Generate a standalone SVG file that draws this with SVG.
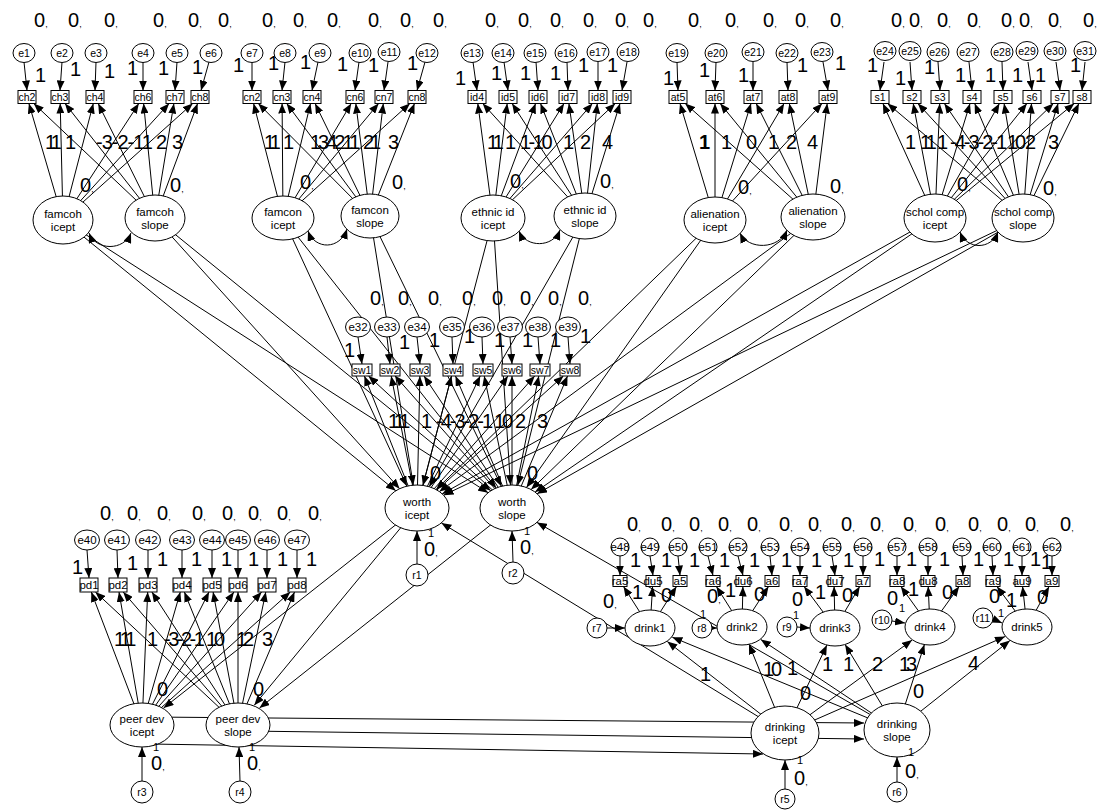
<svg xmlns="http://www.w3.org/2000/svg" width="1112" height="811" viewBox="0 0 1112 811">
<defs>
<marker id="ah" viewBox="0 0 10 8" refX="10" refY="4" markerWidth="10" markerHeight="8" markerUnits="userSpaceOnUse" orient="auto-start-reverse"><path d="M0,0L10,4L0,8z" fill="#000"/></marker>
<style>
.l{stroke:#000;stroke-width:1;fill:none;marker-end:url(#ah)}
.cv{stroke:#000;stroke-width:1;fill:none;marker-start:url(#ah);marker-end:url(#ah)}
.n{fill:#fff;stroke:#000;stroke-width:1}
.t{font-family:"Liberation Sans",Arial,sans-serif;font-size:11.5px;text-anchor:middle;fill:#000}
.s{font-size:10.5px}
.v{font-family:"Liberation Sans",Arial,sans-serif;font-size:20px;fill:#000}
.c{font-size:9px}
.m{font-family:"Liberation Sans",Arial,sans-serif;font-size:11px;fill:#000}
.b{font-weight:bold}
.k4{letter-spacing:-4px}
.k3{letter-spacing:-3px}
.k2{letter-spacing:-2px}
.k25{letter-spacing:-2.5px}
.k1{letter-spacing:-1px}
</style>
</defs>
<rect width="1112" height="811" fill="#fff"/>

<g id="connectors">
<!-- error to indicator, top row -->
<line class="l" x1="24" y1="62" x2="27" y2="90.5"/>
<line class="l" x1="62" y1="62" x2="60" y2="90.5"/>
<line class="l" x1="96" y1="62" x2="95" y2="90.5"/>
<line class="l" x1="143" y1="62" x2="143" y2="90.5"/>
<line class="l" x1="177" y1="62" x2="175" y2="90.5"/>
<line class="l" x1="209" y1="62" x2="201" y2="90.5"/>
<line class="l" x1="252" y1="62" x2="252" y2="90.5"/>
<line class="l" x1="285" y1="62" x2="282" y2="90.5"/>
<line class="l" x1="318" y1="62" x2="312" y2="90.5"/>
<line class="l" x1="359" y1="62" x2="355" y2="90.5"/>
<line class="l" x1="388" y1="62" x2="384" y2="90.5"/>
<line class="l" x1="425" y1="62" x2="417" y2="90.5"/>
<line class="l" x1="473" y1="62" x2="477" y2="90.5"/>
<line class="l" x1="504" y1="62" x2="508" y2="90.5"/>
<line class="l" x1="536" y1="62" x2="538" y2="90.5"/>
<line class="l" x1="567" y1="62" x2="568" y2="90.5"/>
<line class="l" x1="598" y1="62" x2="598" y2="90.5"/>
<line class="l" x1="627" y1="62" x2="622" y2="90.5"/>
<line class="l" x1="677" y1="62" x2="678" y2="90.5"/>
<line class="l" x1="716" y1="62" x2="715" y2="90.5"/>
<line class="l" x1="753" y1="62" x2="753" y2="90.5"/>
<line class="l" x1="787" y1="62" x2="788" y2="90.5"/>
<line class="l" x1="823" y1="62" x2="828" y2="90.5"/>
<line class="l" x1="884" y1="62" x2="880" y2="90.5"/>
<line class="l" x1="910" y1="62" x2="912" y2="90.5"/>
<line class="l" x1="938" y1="62" x2="940" y2="90.5"/>
<line class="l" x1="969" y1="62" x2="972" y2="90.5"/>
<line class="l" x1="1002" y1="62" x2="1003" y2="90.5"/>
<line class="l" x1="1028" y1="62" x2="1032" y2="90.5"/>
<line class="l" x1="1056" y1="62" x2="1060" y2="90.5"/>
<line class="l" x1="1085" y1="62" x2="1082" y2="90.5"/>
<!-- famcoh loadings -->
<line class="l" x1="63" y1="220" x2="28.9" y2="103.5"/>
<line class="l" x1="63" y1="220" x2="60.2" y2="103.5"/>
<line class="l" x1="63" y1="220" x2="93.3" y2="103.5"/>
<line class="l" x1="63" y1="220" x2="138.8" y2="103.5"/>
<line class="l" x1="63" y1="220" x2="169.1" y2="103.5"/>
<line class="l" x1="63" y1="220" x2="192.7" y2="103.5"/>
<line class="l" x1="155" y1="218" x2="33.8" y2="103.5"/>
<line class="l" x1="155" y1="218" x2="65" y2="103.5"/>
<line class="l" x1="155" y1="218" x2="98.2" y2="103.5"/>
<line class="l" x1="155" y1="218" x2="143.6" y2="103.5"/>
<line class="l" x1="155" y1="218" x2="173.9" y2="103.5"/>
<line class="l" x1="155" y1="218" x2="197.6" y2="103.5"/>
<!-- famcon loadings -->
<line class="l" x1="283" y1="218" x2="253.6" y2="103.5"/>
<line class="l" x1="283" y1="218" x2="282.1" y2="103.5"/>
<line class="l" x1="283" y1="218" x2="310.5" y2="103.5"/>
<line class="l" x1="283" y1="218" x2="351.2" y2="103.5"/>
<line class="l" x1="283" y1="218" x2="378.6" y2="103.5"/>
<line class="l" x1="283" y1="218" x2="409.9" y2="103.5"/>
<line class="l" x1="370" y1="216" x2="258.3" y2="103.5"/>
<line class="l" x1="370" y1="216" x2="286.7" y2="103.5"/>
<line class="l" x1="370" y1="216" x2="315.1" y2="103.5"/>
<line class="l" x1="370" y1="216" x2="355.8" y2="103.5"/>
<line class="l" x1="370" y1="216" x2="383.3" y2="103.5"/>
<line class="l" x1="370" y1="216" x2="414.5" y2="103.5"/>
<!-- ethnic id loadings -->
<line class="l" x1="493" y1="218" x2="477.8" y2="103.5"/>
<line class="l" x1="493" y1="218" x2="507.2" y2="103.5"/>
<line class="l" x1="493" y1="218" x2="535.6" y2="103.5"/>
<line class="l" x1="493" y1="218" x2="564" y2="103.5"/>
<line class="l" x1="493" y1="218" x2="592.4" y2="103.5"/>
<line class="l" x1="493" y1="218" x2="615.2" y2="103.5"/>
<line class="l" x1="585" y1="216" x2="482.7" y2="103.5"/>
<line class="l" x1="585" y1="216" x2="512.1" y2="103.5"/>
<line class="l" x1="585" y1="216" x2="540.5" y2="103.5"/>
<line class="l" x1="585" y1="216" x2="568.9" y2="103.5"/>
<line class="l" x1="585" y1="216" x2="597.3" y2="103.5"/>
<line class="l" x1="585" y1="216" x2="620" y2="103.5"/>
<!-- alienation loadings -->
<line class="l" x1="715" y1="220" x2="680" y2="103.5"/>
<line class="l" x1="715" y1="220" x2="715" y2="103.5"/>
<line class="l" x1="715" y1="220" x2="751" y2="103.5"/>
<line class="l" x1="715" y1="220" x2="784.1" y2="103.5"/>
<line class="l" x1="715" y1="220" x2="822" y2="103.5"/>
<line class="l" x1="813" y1="217" x2="685.2" y2="103.5"/>
<line class="l" x1="813" y1="217" x2="720.2" y2="103.5"/>
<line class="l" x1="813" y1="217" x2="756.2" y2="103.5"/>
<line class="l" x1="813" y1="217" x2="789.3" y2="103.5"/>
<line class="l" x1="813" y1="217" x2="827.2" y2="103.5"/>
<!-- schol comp loadings -->
<line class="l" x1="935" y1="218" x2="882.9" y2="103.5"/>
<line class="l" x1="935" y1="218" x2="913.2" y2="103.5"/>
<line class="l" x1="935" y1="218" x2="939.7" y2="103.5"/>
<line class="l" x1="935" y1="218" x2="970" y2="103.5"/>
<line class="l" x1="935" y1="218" x2="999.4" y2="103.5"/>
<line class="l" x1="935" y1="218" x2="1026.9" y2="103.5"/>
<line class="l" x1="935" y1="218" x2="1053.4" y2="103.5"/>
<line class="l" x1="935" y1="218" x2="1074.2" y2="103.5"/>
<line class="l" x1="1023" y1="218" x2="887.6" y2="103.5"/>
<line class="l" x1="1023" y1="218" x2="917.9" y2="103.5"/>
<line class="l" x1="1023" y1="218" x2="944.4" y2="103.5"/>
<line class="l" x1="1023" y1="218" x2="974.7" y2="103.5"/>
<line class="l" x1="1023" y1="218" x2="1004.1" y2="103.5"/>
<line class="l" x1="1023" y1="218" x2="1031.5" y2="103.5"/>
<line class="l" x1="1023" y1="218" x2="1058.1" y2="103.5"/>
<line class="l" x1="1023" y1="218" x2="1078.9" y2="103.5"/>
<!-- intercept/slope covariances -->
<path class="cv" d="M89,233 C96,251 124,251 131,233"/>
<path class="cv" d="M308,231 C315,250 340,250 347,229"/>
<path class="cv" d="M519,231 C526,248 553,248 560,230"/>
<path class="cv" d="M740,233 C748,250 779,250 787,230"/>
<path class="cv" d="M960,232 C967,250 991,250 998,232"/>
<!-- domain growth factors to self-worth growth factors -->
<line class="l" x1="63" y1="220" x2="395.8" y2="490.8"/>
<line class="l" x1="63" y1="220" x2="488.1" y2="492.7"/>
<line class="l" x1="155" y1="218" x2="399.6" y2="488.7"/>
<line class="l" x1="155" y1="218" x2="490.8" y2="490.8"/>
<line class="l" x1="283" y1="218" x2="406.9" y2="486.2"/>
<line class="l" x1="283" y1="218" x2="496.2" y2="488"/>
<line class="l" x1="370" y1="216" x2="413.3" y2="485.2"/>
<line class="l" x1="370" y1="216" x2="501.4" y2="486.3"/>
<line class="l" x1="493" y1="218" x2="422.9" y2="485.4"/>
<line class="l" x1="493" y1="218" x2="510.5" y2="485"/>
<line class="l" x1="585" y1="216" x2="429.2" y2="486.7"/>
<line class="l" x1="585" y1="216" x2="517.7" y2="485.4"/>
<line class="l" x1="715" y1="220" x2="436.1" y2="489.5"/>
<line class="l" x1="715" y1="220" x2="526.5" y2="487.5"/>
<line class="l" x1="813" y1="217" x2="439.4" y2="491.6"/>
<line class="l" x1="813" y1="217" x2="531.1" y2="489.6"/>
<line class="l" x1="935" y1="218" x2="442.2" y2="493.9"/>
<line class="l" x1="935" y1="218" x2="535.1" y2="492.1"/>
<line class="l" x1="1023" y1="218" x2="443.7" y2="495.2"/>
<line class="l" x1="1023" y1="218" x2="537.1" y2="493.8"/>
<!-- self-worth measurement -->
<line class="l" x1="358" y1="337" x2="362" y2="364"/>
<line class="l" x1="387" y1="337" x2="390" y2="364"/>
<line class="l" x1="417" y1="337" x2="420" y2="364"/>
<line class="l" x1="452" y1="337" x2="453" y2="364"/>
<line class="l" x1="482" y1="337" x2="483" y2="364"/>
<line class="l" x1="510" y1="337" x2="512" y2="364"/>
<line class="l" x1="538" y1="337" x2="540" y2="364"/>
<line class="l" x1="568" y1="337" x2="570" y2="364"/>
<line class="l" x1="417" y1="508" x2="364.4" y2="376"/>
<line class="l" x1="417" y1="508" x2="391.2" y2="376"/>
<line class="l" x1="417" y1="508" x2="419.9" y2="376"/>
<line class="l" x1="417" y1="508" x2="451.5" y2="376"/>
<line class="l" x1="417" y1="508" x2="480.2" y2="376"/>
<line class="l" x1="417" y1="508" x2="507.9" y2="376"/>
<line class="l" x1="417" y1="508" x2="534.7" y2="376"/>
<line class="l" x1="417" y1="508" x2="563.4" y2="376"/>
<line class="l" x1="512" y1="508" x2="368.5" y2="376"/>
<line class="l" x1="512" y1="508" x2="395.2" y2="376"/>
<line class="l" x1="512" y1="508" x2="424" y2="376"/>
<line class="l" x1="512" y1="508" x2="455.5" y2="376"/>
<line class="l" x1="512" y1="508" x2="484.2" y2="376"/>
<line class="l" x1="512" y1="508" x2="512" y2="376"/>
<line class="l" x1="512" y1="508" x2="538.8" y2="376"/>
<line class="l" x1="512" y1="508" x2="567.5" y2="376"/>
<!-- self-worth to peer deviance -->
<line class="l" x1="417" y1="508" x2="163.6" y2="708"/>
<line class="l" x1="417" y1="508" x2="254.3" y2="705.2"/>
<line class="l" x1="512" y1="508" x2="259.5" y2="708"/>
<!-- drinking to self-worth -->
<line class="l" x1="785" y1="733" x2="441.4" y2="522.9"/>
<line class="l" x1="897" y1="730" x2="537" y2="522.4"/>
<!-- peer deviance measurement -->
<line class="l" x1="87" y1="550" x2="89" y2="578"/>
<line class="l" x1="117" y1="550" x2="118" y2="578"/>
<line class="l" x1="148" y1="550" x2="148" y2="578"/>
<line class="l" x1="182" y1="550" x2="182" y2="578"/>
<line class="l" x1="212" y1="550" x2="212" y2="578"/>
<line class="l" x1="238" y1="550" x2="238" y2="578"/>
<line class="l" x1="267" y1="550" x2="267" y2="578"/>
<line class="l" x1="297" y1="550" x2="297" y2="578"/>
<line class="l" x1="142" y1="725" x2="91.3" y2="592"/>
<line class="l" x1="142" y1="725" x2="119" y2="592"/>
<line class="l" x1="142" y1="725" x2="147.7" y2="592"/>
<line class="l" x1="142" y1="725" x2="180.3" y2="592"/>
<line class="l" x1="142" y1="725" x2="209" y2="592"/>
<line class="l" x1="142" y1="725" x2="233.9" y2="592"/>
<line class="l" x1="142" y1="725" x2="261.6" y2="592"/>
<line class="l" x1="142" y1="725" x2="290.3" y2="592"/>
<line class="l" x1="238" y1="725" x2="95.4" y2="592"/>
<line class="l" x1="238" y1="725" x2="123.2" y2="592"/>
<line class="l" x1="238" y1="725" x2="151.9" y2="592"/>
<line class="l" x1="238" y1="725" x2="184.4" y2="592"/>
<line class="l" x1="238" y1="725" x2="213.1" y2="592"/>
<line class="l" x1="238" y1="725" x2="238" y2="592"/>
<line class="l" x1="238" y1="725" x2="265.8" y2="592"/>
<line class="l" x1="238" y1="725" x2="294.5" y2="592"/>
<!-- peer deviance to drinking -->
<line class="l" x1="150" y1="717" x2="864" y2="723"/>
<line class="l" x1="245" y1="731" x2="864" y2="739"/>
<line class="l" x1="150" y1="744" x2="763" y2="754"/>
<!-- drinking measurement -->
<line class="l" x1="620" y1="556" x2="620" y2="575.5"/>
<line class="l" x1="650" y1="556" x2="653" y2="575.5"/>
<line class="l" x1="678" y1="556" x2="680" y2="575.5"/>
<line class="l" x1="708" y1="556" x2="713" y2="575.5"/>
<line class="l" x1="738" y1="556" x2="743" y2="575.5"/>
<line class="l" x1="770" y1="556" x2="772" y2="575.5"/>
<line class="l" x1="800" y1="556" x2="800" y2="575.5"/>
<line class="l" x1="832" y1="556" x2="835" y2="575.5"/>
<line class="l" x1="863" y1="556" x2="863" y2="575.5"/>
<line class="l" x1="897" y1="556" x2="897" y2="575.5"/>
<line class="l" x1="928" y1="556" x2="928" y2="575.5"/>
<line class="l" x1="962" y1="556" x2="963" y2="575.5"/>
<line class="l" x1="992" y1="556" x2="993" y2="575.5"/>
<line class="l" x1="1022" y1="556" x2="1022" y2="575.5"/>
<line class="l" x1="1052" y1="556" x2="1052" y2="575.5"/>
<line class="l" x1="650" y1="628" x2="623.5" y2="586.5"/>
<line class="l" x1="650" y1="628" x2="652.6" y2="586.5"/>
<line class="l" x1="650" y1="628" x2="676.5" y2="586.5"/>
<line class="l" x1="742" y1="627" x2="716.4" y2="586.5"/>
<line class="l" x1="742" y1="627" x2="742.9" y2="586.5"/>
<line class="l" x1="742" y1="627" x2="768.5" y2="586.5"/>
<line class="l" x1="835" y1="628" x2="804.1" y2="586.5"/>
<line class="l" x1="835" y1="628" x2="834.1" y2="586.5"/>
<line class="l" x1="835" y1="628" x2="859.7" y2="586.5"/>
<line class="l" x1="930" y1="627" x2="900.9" y2="586.5"/>
<line class="l" x1="930" y1="627" x2="928.2" y2="586.5"/>
<line class="l" x1="930" y1="627" x2="959.1" y2="586.5"/>
<line class="l" x1="1027" y1="627" x2="997" y2="586.5"/>
<line class="l" x1="1027" y1="627" x2="1022.6" y2="586.5"/>
<line class="l" x1="1027" y1="627" x2="1049.1" y2="586.5"/>
<!-- drinking growth factors to occasions -->
<line class="l" x1="785" y1="733" x2="667.3" y2="641.5"/>
<line class="l" x1="785" y1="733" x2="749" y2="644.3"/>
<line class="l" x1="785" y1="733" x2="826.9" y2="645.1"/>
<line class="l" x1="785" y1="733" x2="912.1" y2="640.1"/>
<line class="l" x1="785" y1="733" x2="1005" y2="636.6"/>
<line class="l" x1="897" y1="730" x2="672.3" y2="637.2"/>
<line class="l" x1="897" y1="730" x2="760.8" y2="639.5"/>
<line class="l" x1="897" y1="730" x2="845.1" y2="644.6"/>
<line class="l" x1="897" y1="730" x2="924.4" y2="644.6"/>
<line class="l" x1="897" y1="730" x2="1009.9" y2="640.6"/>
<!-- residuals -->
<line class="l" x1="417" y1="564" x2="417" y2="531"/>
<line class="l" x1="513" y1="562" x2="512" y2="531"/>
<line class="l" x1="142" y1="781" x2="142" y2="747"/>
<line class="l" x1="240" y1="781" x2="239" y2="747"/>
<line class="l" x1="785" y1="789" x2="785" y2="760"/>
<line class="l" x1="897" y1="782" x2="897" y2="757"/>
<line class="l" x1="607" y1="628" x2="625" y2="628"/>
<line class="l" x1="706" y1="628" x2="717" y2="628"/>
<line class="l" x1="797" y1="627" x2="810" y2="628"/>
<line class="l" x1="892" y1="621" x2="905" y2="623"/>
<line class="l" x1="993" y1="619" x2="1002" y2="623"/>
</g>

<!-- famcoh block -->
<g id="e1"><ellipse class="n" cx="24" cy="53" rx="11" ry="9.5"/><text class="t s" x="24" y="57">e1</text></g>
<g id="e2"><ellipse class="n" cx="62" cy="53" rx="11" ry="9.5"/><text class="t s" x="62" y="57">e2</text></g>
<g id="e3"><ellipse class="n" cx="96" cy="53" rx="11" ry="9.5"/><text class="t s" x="96" y="57">e3</text></g>
<g id="e4"><ellipse class="n" cx="143" cy="53" rx="11" ry="9.5"/><text class="t s" x="143" y="57">e4</text></g>
<g id="e5"><ellipse class="n" cx="177" cy="53" rx="11" ry="9.5"/><text class="t s" x="177" y="57">e5</text></g>
<g id="e6"><ellipse class="n" cx="211" cy="53" rx="11" ry="9.5"/><text class="t s" x="211" y="57">e6</text></g>
<g id="ch2"><rect class="n" x="18" y="90.5" width="18" height="13"/><text class="t s" x="27" y="101">ch2</text></g>
<g id="ch3"><rect class="n" x="51" y="90.5" width="18" height="13"/><text class="t s" x="60" y="101">ch3</text></g>
<g id="ch4"><rect class="n" x="86" y="90.5" width="18" height="13"/><text class="t s" x="95" y="101">ch4</text></g>
<g id="ch6"><rect class="n" x="134" y="90.5" width="18" height="13"/><text class="t s" x="143" y="101">ch6</text></g>
<g id="ch7"><rect class="n" x="166" y="90.5" width="18" height="13"/><text class="t s" x="175" y="101">ch7</text></g>
<g id="ch8"><rect class="n" x="191" y="90.5" width="18" height="13"/><text class="t s" x="200" y="101">ch8</text></g>
<g id="famcoh_icept"><ellipse class="n" cx="63" cy="220" rx="30" ry="24"/><text class="t" x="63" y="218">famcoh</text><text class="t" x="63" y="231">icept</text></g>
<g id="famcoh_slope"><ellipse class="n" cx="155" cy="218" rx="30" ry="23"/><text class="t" x="155" y="216">famcoh</text><text class="t" x="155" y="229">slope</text></g>

<!-- famcon block -->
<g id="e7"><ellipse class="n" cx="252" cy="53" rx="11" ry="9.5"/><text class="t s" x="252" y="57">e7</text></g>
<g id="e8"><ellipse class="n" cx="285" cy="53" rx="11" ry="9.5"/><text class="t s" x="285" y="57">e8</text></g>
<g id="e9"><ellipse class="n" cx="320" cy="53" rx="11" ry="9.5"/><text class="t s" x="320" y="57">e9</text></g>
<g id="e10"><ellipse class="n" cx="360" cy="53" rx="11" ry="9.5"/><text class="t s" x="360" y="57">e10</text></g>
<g id="e11"><ellipse class="n" cx="389" cy="52" rx="11" ry="9.5"/><text class="t s" x="389" y="56">e11</text></g>
<g id="e12"><ellipse class="n" cx="427" cy="53" rx="11" ry="9.5"/><text class="t s" x="427" y="57">e12</text></g>
<g id="cn2"><rect class="n" x="243" y="90.5" width="18" height="13"/><text class="t s" x="252" y="101">cn2</text></g>
<g id="cn3"><rect class="n" x="273" y="90.5" width="18" height="13"/><text class="t s" x="282" y="101">cn3</text></g>
<g id="cn4"><rect class="n" x="303" y="90.5" width="18" height="13"/><text class="t s" x="312" y="101">cn4</text></g>
<g id="cn6"><rect class="n" x="346" y="90.5" width="18" height="13"/><text class="t s" x="355" y="101">cn6</text></g>
<g id="cn7"><rect class="n" x="375" y="90.5" width="18" height="13"/><text class="t s" x="384" y="101">cn7</text></g>
<g id="cn8"><rect class="n" x="408" y="90.5" width="18" height="13"/><text class="t s" x="417" y="101">cn8</text></g>
<g id="famcon_icept"><ellipse class="n" cx="283" cy="218" rx="31" ry="22"/><text class="t" x="283" y="216">famcon</text><text class="t" x="283" y="229">icept</text></g>
<g id="famcon_slope"><ellipse class="n" cx="370" cy="216" rx="29" ry="22"/><text class="t" x="370" y="214">famcon</text><text class="t" x="370" y="227">slope</text></g>

<!-- ethnic identity block -->
<g id="e13"><ellipse class="n" cx="472" cy="53" rx="11" ry="9.5"/><text class="t s" x="472" y="57">e13</text></g>
<g id="e14"><ellipse class="n" cx="503" cy="53" rx="11" ry="9.5"/><text class="t s" x="503" y="57">e14</text></g>
<g id="e15"><ellipse class="n" cx="535" cy="53" rx="11" ry="9.5"/><text class="t s" x="535" y="57">e15</text></g>
<g id="e16"><ellipse class="n" cx="566" cy="53" rx="11" ry="9.5"/><text class="t s" x="566" y="57">e16</text></g>
<g id="e17"><ellipse class="n" cx="598" cy="52" rx="11" ry="9.5"/><text class="t s" x="598" y="56">e17</text></g>
<g id="e18"><ellipse class="n" cx="628" cy="52" rx="11" ry="9.5"/><text class="t s" x="628" y="56">e18</text></g>
<g id="id4"><rect class="n" x="468" y="90.5" width="18" height="13"/><text class="t s" x="477" y="101">id4</text></g>
<g id="id5"><rect class="n" x="499" y="90.5" width="18" height="13"/><text class="t s" x="508" y="101">id5</text></g>
<g id="id6"><rect class="n" x="529" y="90.5" width="18" height="13"/><text class="t s" x="538" y="101">id6</text></g>
<g id="id7"><rect class="n" x="559" y="90.5" width="18" height="13"/><text class="t s" x="568" y="101">id7</text></g>
<g id="id8"><rect class="n" x="589" y="90.5" width="18" height="13"/><text class="t s" x="598" y="101">id8</text></g>
<g id="id9"><rect class="n" x="613" y="90.5" width="18" height="13"/><text class="t s" x="622" y="101">id9</text></g>
<g id="ethnic_icept"><ellipse class="n" cx="493" cy="218" rx="32" ry="23"/><text class="t" x="493" y="216">ethnic id</text><text class="t" x="493" y="229">icept</text></g>
<g id="ethnic_slope"><ellipse class="n" cx="585" cy="216" rx="31" ry="23"/><text class="t" x="585" y="214">ethnic id</text><text class="t" x="585" y="227">slope</text></g>

<!-- alienation block -->
<g id="e19"><ellipse class="n" cx="677" cy="53" rx="11" ry="9.5"/><text class="t s" x="677" y="57">e19</text></g>
<g id="e20"><ellipse class="n" cx="716" cy="53" rx="11" ry="9.5"/><text class="t s" x="716" y="57">e20</text></g>
<g id="e21"><ellipse class="n" cx="753" cy="52" rx="11" ry="9.5"/><text class="t s" x="753" y="56">e21</text></g>
<g id="e22"><ellipse class="n" cx="787" cy="53" rx="11" ry="9.5"/><text class="t s" x="787" y="57">e22</text></g>
<g id="e23"><ellipse class="n" cx="822" cy="52" rx="11" ry="9.5"/><text class="t s" x="822" y="56">e23</text></g>
<g id="at5"><rect class="n" x="669" y="90.5" width="18" height="13"/><text class="t s" x="678" y="101">at5</text></g>
<g id="at6"><rect class="n" x="706" y="90.5" width="18" height="13"/><text class="t s" x="715" y="101">at6</text></g>
<g id="at7"><rect class="n" x="744" y="90.5" width="18" height="13"/><text class="t s" x="753" y="101">at7</text></g>
<g id="at8"><rect class="n" x="779" y="90.5" width="18" height="13"/><text class="t s" x="788" y="101">at8</text></g>
<g id="at9"><rect class="n" x="819" y="90.5" width="18" height="13"/><text class="t s" x="828" y="101">at9</text></g>
<g id="alien_icept"><ellipse class="n" cx="715" cy="220" rx="31" ry="23"/><text class="t" x="715" y="218">alienation</text><text class="t" x="715" y="231">icept</text></g>
<g id="alien_slope"><ellipse class="n" cx="813" cy="217" rx="32" ry="23"/><text class="t" x="813" y="215">alienation</text><text class="t" x="813" y="228">slope</text></g>

<!-- school competence block -->
<g id="e24"><ellipse class="n" cx="885" cy="51" rx="11" ry="9.5"/><text class="t s" x="885" y="55">e24</text></g>
<g id="e25"><ellipse class="n" cx="910" cy="51" rx="11" ry="9.5"/><text class="t s" x="910" y="55">e25</text></g>
<g id="e26"><ellipse class="n" cx="938" cy="52" rx="11" ry="9.5"/><text class="t s" x="938" y="56">e26</text></g>
<g id="e27"><ellipse class="n" cx="968" cy="52" rx="11" ry="9.5"/><text class="t s" x="968" y="56">e27</text></g>
<g id="e28"><ellipse class="n" cx="1002" cy="52" rx="11" ry="9.5"/><text class="t s" x="1002" y="56">e28</text></g>
<g id="e29"><ellipse class="n" cx="1027" cy="51" rx="11" ry="9.5"/><text class="t s" x="1027" y="55">e29</text></g>
<g id="e30"><ellipse class="n" cx="1055" cy="51" rx="11" ry="9.5"/><text class="t s" x="1055" y="55">e30</text></g>
<g id="e31"><ellipse class="n" cx="1085" cy="51" rx="11" ry="9.5"/><text class="t s" x="1085" y="55">e31</text></g>
<g id="s1"><rect class="n" x="871" y="90.5" width="18" height="13"/><text class="t s" x="880" y="101">s1</text></g>
<g id="s2"><rect class="n" x="903" y="90.5" width="18" height="13"/><text class="t s" x="912" y="101">s2</text></g>
<g id="s3"><rect class="n" x="931" y="90.5" width="18" height="13"/><text class="t s" x="940" y="101">s3</text></g>
<g id="s4"><rect class="n" x="963" y="90.5" width="18" height="13"/><text class="t s" x="972" y="101">s4</text></g>
<g id="s5"><rect class="n" x="994" y="90.5" width="18" height="13"/><text class="t s" x="1003" y="101">s5</text></g>
<g id="s6"><rect class="n" x="1023" y="90.5" width="18" height="13"/><text class="t s" x="1032" y="101">s6</text></g>
<g id="s7"><rect class="n" x="1051" y="90.5" width="18" height="13"/><text class="t s" x="1060" y="101">s7</text></g>
<g id="s8"><rect class="n" x="1073" y="90.5" width="18" height="13"/><text class="t s" x="1082" y="101">s8</text></g>
<g id="schol_icept"><ellipse class="n" cx="935" cy="218" rx="31" ry="24"/><text class="t" x="935" y="216">schol comp</text><text class="t" x="935" y="229">icept</text></g>
<g id="schol_slope"><ellipse class="n" cx="1023" cy="218" rx="31" ry="24"/><text class="t" x="1023" y="216">schol comp</text><text class="t" x="1023" y="229">slope</text></g>

<!-- self-worth block -->
<g id="e32"><ellipse class="n" cx="358" cy="327" rx="12.5" ry="10"/><text class="t" x="358" y="331">e32</text></g>
<g id="e33"><ellipse class="n" cx="387" cy="327" rx="12.5" ry="10"/><text class="t" x="387" y="331">e33</text></g>
<g id="e34"><ellipse class="n" cx="417" cy="327" rx="12.5" ry="10"/><text class="t" x="417" y="331">e34</text></g>
<g id="e35"><ellipse class="n" cx="452" cy="327" rx="12.5" ry="10"/><text class="t" x="452" y="331">e35</text></g>
<g id="e36"><ellipse class="n" cx="482" cy="327" rx="12.5" ry="10"/><text class="t" x="482" y="331">e36</text></g>
<g id="e37"><ellipse class="n" cx="510" cy="327" rx="12.5" ry="10"/><text class="t" x="510" y="331">e37</text></g>
<g id="e38"><ellipse class="n" cx="538" cy="327" rx="12.5" ry="10"/><text class="t" x="538" y="331">e38</text></g>
<g id="e39"><ellipse class="n" cx="568" cy="327" rx="12.5" ry="10"/><text class="t" x="568" y="331">e39</text></g>
<g id="sw1"><rect class="n" x="352" y="364" width="20" height="12"/><text class="t s" x="362" y="374">sw1</text></g>
<g id="sw2"><rect class="n" x="380" y="364" width="20" height="12"/><text class="t s" x="390" y="374">sw2</text></g>
<g id="sw3"><rect class="n" x="410" y="364" width="20" height="12"/><text class="t s" x="420" y="374">sw3</text></g>
<g id="sw4"><rect class="n" x="443" y="364" width="20" height="12"/><text class="t s" x="453" y="374">sw4</text></g>
<g id="sw5"><rect class="n" x="473" y="364" width="20" height="12"/><text class="t s" x="483" y="374">sw5</text></g>
<g id="sw6"><rect class="n" x="502" y="364" width="20" height="12"/><text class="t s" x="512" y="374">sw6</text></g>
<g id="sw7"><rect class="n" x="530" y="364" width="20" height="12"/><text class="t s" x="540" y="374">sw7</text></g>
<g id="sw8"><rect class="n" x="560" y="364" width="20" height="12"/><text class="t s" x="570" y="374">sw8</text></g>
<g id="worth_icept"><ellipse class="n" cx="417" cy="508" rx="32" ry="23"/><text class="t" x="417" y="506">worth</text><text class="t" x="417" y="519">icept</text></g>
<g id="worth_slope"><ellipse class="n" cx="512" cy="508" rx="32" ry="23"/><text class="t" x="512" y="506">worth</text><text class="t" x="512" y="519">slope</text></g>
<g id="r1"><circle class="n" cx="417" cy="575" r="11"/><text class="t s" x="417" y="579">r1</text></g>
<g id="r2"><circle class="n" cx="513" cy="573" r="11"/><text class="t s" x="513" y="577">r2</text></g>

<!-- peer deviance block -->
<g id="e40"><ellipse class="n" cx="87" cy="540" rx="12.5" ry="10"/><text class="t" x="87" y="544">e40</text></g>
<g id="e41"><ellipse class="n" cx="117" cy="540" rx="12.5" ry="10"/><text class="t" x="117" y="544">e41</text></g>
<g id="e42"><ellipse class="n" cx="148" cy="540" rx="12.5" ry="10"/><text class="t" x="148" y="544">e42</text></g>
<g id="e43"><ellipse class="n" cx="182" cy="540" rx="12.5" ry="10"/><text class="t" x="182" y="544">e43</text></g>
<g id="e44"><ellipse class="n" cx="212" cy="540" rx="12.5" ry="10"/><text class="t" x="212" y="544">e44</text></g>
<g id="e45"><ellipse class="n" cx="238" cy="540" rx="12.5" ry="10"/><text class="t" x="238" y="544">e45</text></g>
<g id="e46"><ellipse class="n" cx="267" cy="540" rx="12.5" ry="10"/><text class="t" x="267" y="544">e46</text></g>
<g id="e47"><ellipse class="n" cx="297" cy="540" rx="12.5" ry="10"/><text class="t" x="297" y="544">e47</text></g>
<g id="pd1"><rect class="n" x="80" y="578" width="18" height="14"/><text class="t" x="89" y="589">pd1</text></g>
<g id="pd2"><rect class="n" x="109" y="578" width="18" height="14"/><text class="t" x="118" y="589">pd2</text></g>
<g id="pd3"><rect class="n" x="139" y="578" width="18" height="14"/><text class="t" x="148" y="589">pd3</text></g>
<g id="pd4"><rect class="n" x="173" y="578" width="18" height="14"/><text class="t" x="182" y="589">pd4</text></g>
<g id="pd5"><rect class="n" x="203" y="578" width="18" height="14"/><text class="t" x="212" y="589">pd5</text></g>
<g id="pd6"><rect class="n" x="229" y="578" width="18" height="14"/><text class="t" x="238" y="589">pd6</text></g>
<g id="pd7"><rect class="n" x="258" y="578" width="18" height="14"/><text class="t" x="267" y="589">pd7</text></g>
<g id="pd8"><rect class="n" x="288" y="578" width="18" height="14"/><text class="t" x="297" y="589">pd8</text></g>
<g id="peer_icept"><ellipse class="n" cx="142" cy="725" rx="32" ry="22"/><text class="t" x="142" y="723">peer dev</text><text class="t" x="142" y="736">icept</text></g>
<g id="peer_slope"><ellipse class="n" cx="238" cy="725" rx="32" ry="22"/><text class="t" x="238" y="723">peer dev</text><text class="t" x="238" y="736">slope</text></g>
<g id="r3"><circle class="n" cx="142" cy="792" r="11"/><text class="t s" x="142" y="796">r3</text></g>
<g id="r4"><circle class="n" cx="240" cy="792" r="11"/><text class="t s" x="240" y="796">r4</text></g>

<!-- drinking block -->
<g id="e48"><circle class="n" cx="620" cy="547" r="9"/><text class="t" x="620" y="551">e48</text></g>
<g id="e49"><circle class="n" cx="650" cy="547" r="9"/><text class="t" x="650" y="551">e49</text></g>
<g id="e50"><circle class="n" cx="678" cy="547" r="9"/><text class="t" x="678" y="551">e50</text></g>
<g id="e51"><circle class="n" cx="708" cy="547" r="9"/><text class="t" x="708" y="551">e51</text></g>
<g id="e52"><circle class="n" cx="738" cy="547" r="9"/><text class="t" x="738" y="551">e52</text></g>
<g id="e53"><circle class="n" cx="770" cy="547" r="9"/><text class="t" x="770" y="551">e53</text></g>
<g id="e54"><circle class="n" cx="800" cy="547" r="9"/><text class="t" x="800" y="551">e54</text></g>
<g id="e55"><circle class="n" cx="832" cy="547" r="9"/><text class="t" x="832" y="551">e55</text></g>
<g id="e56"><circle class="n" cx="863" cy="547" r="9"/><text class="t" x="863" y="551">e56</text></g>
<g id="e57"><circle class="n" cx="897" cy="547" r="9"/><text class="t" x="897" y="551">e57</text></g>
<g id="e58"><circle class="n" cx="928" cy="547" r="9"/><text class="t" x="928" y="551">e58</text></g>
<g id="e59"><circle class="n" cx="962" cy="547" r="9"/><text class="t" x="962" y="551">e59</text></g>
<g id="e60"><circle class="n" cx="992" cy="547" r="9"/><text class="t" x="992" y="551">e60</text></g>
<g id="e61"><circle class="n" cx="1022" cy="547" r="9"/><text class="t" x="1022" y="551">e61</text></g>
<g id="e62"><circle class="n" cx="1052" cy="547" r="9"/><text class="t" x="1052" y="551">e62</text></g>
<g id="ra5"><rect class="n" x="613" y="575.5" width="14" height="11"/><text class="t" x="620" y="585">ra5</text></g>
<g id="du5"><rect class="n" x="646" y="575.5" width="14" height="11"/><text class="t" x="653" y="585">du5</text></g>
<g id="a5"><rect class="n" x="673" y="575.5" width="14" height="11"/><text class="t" x="680" y="585">a5</text></g>
<g id="ra6"><rect class="n" x="706" y="575.5" width="14" height="11"/><text class="t" x="713" y="585">ra6</text></g>
<g id="du6"><rect class="n" x="736" y="575.5" width="14" height="11"/><text class="t" x="743" y="585">du6</text></g>
<g id="a6"><rect class="n" x="765" y="575.5" width="14" height="11"/><text class="t" x="772" y="585">a6</text></g>
<g id="ra7"><rect class="n" x="793" y="575.5" width="14" height="11"/><text class="t" x="800" y="585">ra7</text></g>
<g id="du7"><rect class="n" x="828" y="575.5" width="14" height="11"/><text class="t" x="835" y="585">du7</text></g>
<g id="a7"><rect class="n" x="856" y="575.5" width="14" height="11"/><text class="t" x="863" y="585">a7</text></g>
<g id="ra8"><rect class="n" x="890" y="575.5" width="14" height="11"/><text class="t" x="897" y="585">ra8</text></g>
<g id="du8"><rect class="n" x="921" y="575.5" width="14" height="11"/><text class="t" x="928" y="585">du8</text></g>
<g id="a8"><rect class="n" x="956" y="575.5" width="14" height="11"/><text class="t" x="963" y="585">a8</text></g>
<g id="ra9"><rect class="n" x="986" y="575.5" width="14" height="11"/><text class="t" x="993" y="585">ra9</text></g>
<g id="au9"><rect class="n" x="1015" y="575.5" width="14" height="11"/><text class="t" x="1022" y="585">au9</text></g>
<g id="a9"><rect class="n" x="1045" y="575.5" width="14" height="11"/><text class="t" x="1052" y="585">a9</text></g>
<g id="drink1"><ellipse class="n" cx="650" cy="628" rx="25" ry="18"/><text class="t" x="650" y="632">drink1</text></g>
<g id="drink2"><ellipse class="n" cx="742" cy="627" rx="25" ry="18"/><text class="t" x="742" y="631">drink2</text></g>
<g id="drink3"><ellipse class="n" cx="835" cy="628" rx="25" ry="18"/><text class="t" x="835" y="632">drink3</text></g>
<g id="drink4"><ellipse class="n" cx="930" cy="627" rx="25" ry="18"/><text class="t" x="930" y="631">drink4</text></g>
<g id="drink5"><ellipse class="n" cx="1027" cy="627" rx="25" ry="18"/><text class="t" x="1027" y="631">drink5</text></g>
<g id="r7"><circle class="n" cx="597" cy="628" r="10"/><text class="t s" x="597" y="632">r7</text></g>
<g id="r8"><circle class="n" cx="702" cy="628" r="10"/><text class="t s" x="702" y="632">r8</text></g>
<g id="r9"><circle class="n" cx="787" cy="627" r="10"/><text class="t s" x="787" y="631">r9</text></g>
<g id="r10"><circle class="n" cx="882" cy="620" r="10"/><text class="t s" x="882" y="624">r10</text></g>
<g id="r11"><circle class="n" cx="983" cy="618" r="10"/><text class="t s" x="983" y="622">r11</text></g>
<g id="drinking_icept"><ellipse class="n" cx="785" cy="733" rx="34" ry="27"/><text class="t" x="785" y="731">drinking</text><text class="t" x="785" y="744">icept</text></g>
<g id="drinking_slope"><ellipse class="n" cx="897" cy="730" rx="33" ry="27"/><text class="t" x="897" y="728">drinking</text><text class="t" x="897" y="741">slope</text></g>
<g id="r5"><circle class="n" cx="785" cy="799" r="10"/><text class="t s" x="785" y="803">r5</text></g>
<g id="r6"><circle class="n" cx="897" cy="792" r="10"/><text class="t s" x="897" y="796">r6</text></g>

<!-- parameter labels -->
<g id="labels">
<!-- error means, top row -->
<text class="v" x="34" y="27">0<tspan class="c">,</tspan></text><text class="v" x="68" y="27">0<tspan class="c">,</tspan></text><text class="v" x="104" y="27">0<tspan class="c">,</tspan></text><text class="v" x="153" y="27">0<tspan class="c">,</tspan></text><text class="v" x="188" y="27">0<tspan class="c">,</tspan></text><text class="v" x="218" y="27">0<tspan class="c">,</tspan></text>
<text class="v" x="262" y="27">0<tspan class="c">,</tspan></text><text class="v" x="293" y="27">0<tspan class="c">,</tspan></text><text class="v" x="327" y="27">0<tspan class="c">,</tspan></text><text class="v" x="368" y="27">0<tspan class="c">,</tspan></text><text class="v" x="400" y="27">0<tspan class="c">,</tspan></text><text class="v" x="433" y="27">0<tspan class="c">,</tspan></text>
<text class="v" x="485" y="27">0<tspan class="c">,</tspan></text><text class="v" x="518" y="27">0<tspan class="c">,</tspan></text><text class="v" x="550" y="27">0<tspan class="c">,</tspan></text><text class="v" x="583" y="27">0<tspan class="c">,</tspan></text><text class="v" x="615" y="27">0<tspan class="c">,</tspan></text><text class="v" x="643" y="27">0<tspan class="c">,</tspan></text>
<text class="v" x="688" y="27">0<tspan class="c">,</tspan></text><text class="v" x="725" y="27">0<tspan class="c">,</tspan></text><text class="v" x="763" y="27">0<tspan class="c">,</tspan></text><text class="v" x="795" y="27">0<tspan class="c">,</tspan></text><text class="v" x="830" y="27">0<tspan class="c">,</tspan></text>
<text class="v" x="891" y="27">0<tspan class="c">,</tspan></text><text class="v" x="909" y="27">0<tspan class="c">,</tspan></text><text class="v" x="937" y="27">0<tspan class="c">,</tspan></text><text class="v" x="967" y="27">0<tspan class="c">,</tspan></text><text class="v" x="1001" y="27">0<tspan class="c">,</tspan></text><text class="v" x="1019" y="27">0<tspan class="c">,</tspan></text><text class="v" x="1048" y="27">0<tspan class="c">,</tspan></text><text class="v" x="1083" y="27">0<tspan class="c">,</tspan></text>
<!-- error path weights, top row -->
<text class="v" x="35" y="82">1</text><text class="v" x="70" y="76">1</text><text class="v" x="104" y="78">1</text><text class="v" x="127" y="75">1</text><text class="v" x="158" y="75">1</text><text class="v" x="192" y="74">1</text>
<text class="v" x="233" y="72">1</text><text class="v" x="268" y="70">1</text><text class="v" x="300" y="69">1</text><text class="v" x="337" y="71">1</text><text class="v" x="368" y="72">1</text><text class="v" x="407" y="70">1</text>
<text class="v" x="455" y="85">1</text><text class="v" x="491" y="80">1</text><text class="v" x="520" y="80">1</text><text class="v" x="550" y="80">1</text><text class="v" x="578" y="72">1</text><text class="v" x="607" y="72">1</text>
<text class="v" x="663" y="85">1</text><text class="v" x="699" y="77">1</text><text class="v" x="738" y="82">1</text><text class="v" x="797" y="72">1</text><text class="v" x="835" y="70">1</text>
<text class="v" x="867" y="72">1</text><text class="v" x="895" y="85">1</text><text class="v" x="924" y="74">1</text><text class="v" x="955" y="82">1</text><text class="v" x="985" y="82">1</text><text class="v" x="1012" y="82">1</text><text class="v" x="1035" y="82">1</text><text class="v" x="1070" y="72">1</text>
<!-- loadings, top row -->
<text class="v k4" x="45" y="149">11</text><text class="v" x="65" y="149">1</text><text class="v k1" x="96" y="149">-3-2-11</text><text class="v" x="156" y="149">2</text><text class="v" x="172" y="149">3</text>
<text class="v k4" x="264" y="149">11</text><text class="v" x="283" y="149">1</text><text class="v k3" x="310" y="149">134211</text><text class="v k4" x="363" y="149">21</text><text class="v" x="388" y="149">3</text>
<text class="v k4" x="487" y="149">11</text><text class="v" x="505" y="149">1</text><text class="v k25" x="520" y="149">1-10</text><text class="v" x="563" y="149">1</text><text class="v" x="580" y="149">2</text><text class="v" x="602" y="149">4</text>
<text class="v b" x="699" y="149">1</text><text class="v" x="721" y="149">1</text><text class="v" x="746" y="149">0</text><text class="v" x="768" y="149">1</text><text class="v" x="786" y="149">2</text><text class="v" x="807" y="149">4</text>
<text class="v" x="905" y="149">1</text><text class="v k4" x="920" y="149">11</text><text class="v" x="937" y="149">1</text><text class="v k2" x="950" y="149">-4-3-2-1</text><text class="v k3" x="1007" y="149">10</text><text class="v" x="1025" y="149">2</text><text class="v" x="1048" y="149">3</text>
<!-- growth factor means, top row -->
<text class="v" x="80" y="192">0<tspan class="c">,</tspan></text><text class="v" x="170" y="192">0<tspan class="c">,</tspan></text>
<text class="v" x="300" y="189">0<tspan class="c">,</tspan></text><text class="v" x="392" y="189">0<tspan class="c">,</tspan></text>
<text class="v" x="510" y="188">0<tspan class="c">,</tspan></text><text class="v" x="600" y="188">0<tspan class="c">,</tspan></text>
<text class="v" x="738" y="194">0<tspan class="c">,</tspan></text><text class="v" x="830" y="193">0<tspan class="c">,</tspan></text>
<text class="v" x="957" y="191">0<tspan class="c">,</tspan></text><text class="v" x="1043" y="195">0<tspan class="c">,</tspan></text>
<!-- self-worth -->
<text class="v" x="370" y="305">0<tspan class="c">,</tspan></text><text class="v" x="398" y="305">0<tspan class="c">,</tspan></text><text class="v" x="428" y="305">0<tspan class="c">,</tspan></text><text class="v" x="462" y="305">0<tspan class="c">,</tspan></text><text class="v" x="492" y="305">0<tspan class="c">,</tspan></text><text class="v" x="520" y="305">0<tspan class="c">,</tspan></text><text class="v" x="548" y="305">0<tspan class="c">,</tspan></text><text class="v" x="578" y="305">0<tspan class="c">,</tspan></text>
<text class="v" x="344" y="357">1</text><text class="v" x="399" y="349">1</text><text class="v" x="429" y="347">1</text><text class="v" x="464" y="343">1</text><text class="v" x="494" y="347">1</text><text class="v" x="522" y="347">1</text><text class="v" x="550" y="347">1</text><text class="v" x="580" y="343">1</text>
<text class="v k4" x="388" y="428">111</text><text class="v" x="421" y="428">1</text><text class="v k2" x="436" y="428">-4-3-2-1</text><text class="v k3" x="494" y="428">10</text><text class="v" x="515" y="428">2</text><text class="v" x="537" y="428">3</text>
<text class="v" x="430" y="480">0</text><text class="v" x="527" y="480">0</text>
<text class="m" x="428" y="537">1</text><text class="v" x="424" y="556">0<tspan class="c">,</tspan></text>
<text class="m" x="524" y="535">1</text><text class="v" x="520" y="554">0<tspan class="c">,</tspan></text>
<!-- peer deviance -->
<text class="v" x="100" y="520">0<tspan class="c">,</tspan></text><text class="v" x="127" y="520">0<tspan class="c">,</tspan></text><text class="v" x="157" y="520">0<tspan class="c">,</tspan></text><text class="v" x="192" y="520">0<tspan class="c">,</tspan></text><text class="v" x="222" y="520">0<tspan class="c">,</tspan></text><text class="v" x="248" y="520">0<tspan class="c">,</tspan></text><text class="v" x="277" y="520">0<tspan class="c">,</tspan></text><text class="v" x="308" y="520">0<tspan class="c">,</tspan></text>
<text class="v" x="72" y="574">1</text><text class="v" x="127" y="570">1</text><text class="v" x="157" y="566">1</text><text class="v" x="191" y="566">1</text><text class="v" x="221" y="566">1</text><text class="v" x="248" y="566">1</text><text class="v" x="277" y="566">1</text><text class="v" x="306" y="566">1</text>
<text class="v k4" x="114" y="646">111</text><text class="v" x="147" y="646">1</text><text class="v k25" x="164" y="646">-3-2-1</text><text class="v k3" x="206" y="646">10</text><text class="v k4" x="236" y="646">12</text><text class="v" x="262" y="646">3</text>
<text class="v" x="157" y="696">0</text><text class="v" x="253" y="696">0</text>
<text class="m" x="153" y="751">1</text><text class="v" x="151" y="770">0<tspan class="c">,</tspan></text>
<text class="m" x="249" y="751">1</text><text class="v" x="247" y="770">0<tspan class="c">,</tspan></text>
<!-- drinking -->
<text class="v" x="627" y="531">0<tspan class="c">,</tspan></text><text class="v" x="661" y="531">0<tspan class="c">,</tspan></text><text class="v" x="689" y="531">0<tspan class="c">,</tspan></text><text class="v" x="718" y="531">0<tspan class="c">,</tspan></text><text class="v" x="747" y="531">0<tspan class="c">,</tspan></text><text class="v" x="779" y="531">0<tspan class="c">,</tspan></text><text class="v" x="808" y="531">0<tspan class="c">,</tspan></text><text class="v" x="841" y="531">0<tspan class="c">,</tspan></text><text class="v" x="870" y="531">0<tspan class="c">,</tspan></text><text class="v" x="903" y="531">0<tspan class="c">,</tspan></text><text class="v" x="935" y="531">0<tspan class="c">,</tspan></text><text class="v" x="968" y="531">0<tspan class="c">,</tspan></text><text class="v" x="997" y="531">0<tspan class="c">,</tspan></text><text class="v" x="1025" y="531">0<tspan class="c">,</tspan></text><text class="v" x="1060" y="531">0<tspan class="c">,</tspan></text>
<text class="v" x="630" y="567">1</text><text class="v" x="661" y="567">1</text><text class="v" x="689" y="567">1</text><text class="v" x="719" y="567">1</text><text class="v" x="749" y="567">1</text><text class="v" x="781" y="567">1</text><text class="v" x="811" y="567">1</text><text class="v" x="843" y="567">1</text><text class="v" x="874" y="566">1</text><text class="v" x="906" y="566">1</text><text class="v" x="939" y="566">1</text><text class="v" x="973" y="566">1</text><text class="v" x="1003" y="566">1</text><text class="v" x="1030" y="566">1</text><text class="v" x="1041" y="569">1</text>
<text class="v" x="632" y="599">1</text><text class="v" x="661" y="602">0</text>
<text class="v" x="725" y="597">1</text><text class="v" x="754" y="601">0</text>
<text class="v" x="815" y="599">1</text><text class="v" x="842" y="602">0</text>
<text class="v" x="908" y="596">1</text><text class="v" x="942" y="599">0</text>
<text class="v" x="1006" y="607">1</text><text class="v" x="1037" y="604">0</text>
<text class="v" x="603" y="608">0<tspan class="c">,</tspan></text>
<text class="m" x="700" y="618">1</text><text class="v" x="707" y="603">0<tspan class="c">,</tspan></text>
<text class="m" x="793" y="619">1</text><text class="v" x="792" y="606">0</text>
<text class="m" x="899" y="612">1</text><text class="v" x="887" y="605">0</text>
<text class="m" x="998" y="617">1</text><text class="v" x="989" y="603">0</text>
<text class="v" x="700" y="681">1</text><text class="v k3" x="763" y="676">10</text><text class="v" x="787" y="675">1</text><text class="v" x="822" y="671">1</text><text class="v" x="843" y="671">1</text><text class="v" x="872" y="671">2</text><text class="v k4" x="899" y="671">13</text><text class="v" x="968" y="670">4</text>
<text class="v" x="800" y="700">0</text><text class="v" x="913" y="698">0</text>
<text class="m" x="797" y="764">1</text><text class="v" x="794" y="785">0<tspan class="c">,</tspan></text>
<text class="m" x="908" y="756">1</text><text class="v" x="905" y="778">0<tspan class="c">,</tspan></text>
</g>
</svg>
